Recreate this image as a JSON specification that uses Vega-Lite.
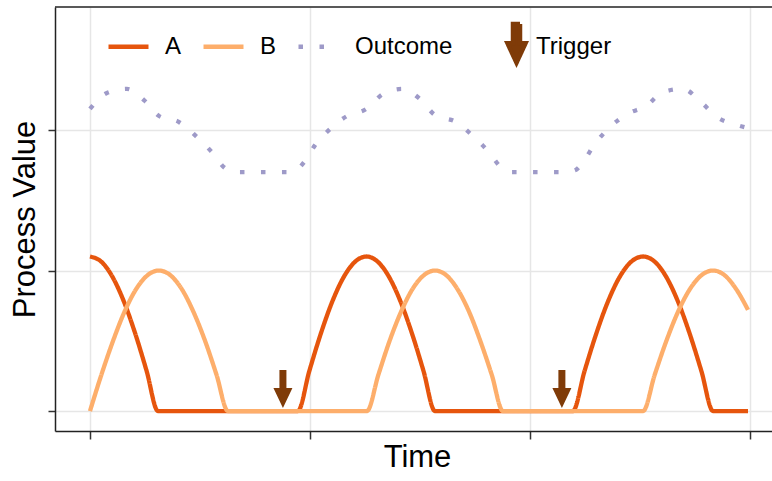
{
  "$schema": "https://vega.github.io/schema/vega-lite/v6.json",
  "autosize": {"type": "none"},
  "padding": {"left": 55, "top": 7, "right": 0, "bottom": 50},
  "width": 717,
  "height": 424,
  "background": "white",
  "datasets": {
    "lines": [
      {"series": "A", "t": 0, "v": 1.1},
      {"series": "A", "t": 0.515, "v": 1.063},
      {"series": "A", "t": 1.03, "v": 0.953},
      {"series": "A", "t": 1.545, "v": 0.778},
      {"series": "A", "t": 2.06, "v": 0.55},
      {"series": "A", "t": 2.575, "v": 0.285},
      {"series": "A", "t": 3.09, "v": 0},
      {"series": "A", "t": 9.45, "v": 0},
      {"series": "A", "t": 9.97, "v": 0.285},
      {"series": "A", "t": 10.49, "v": 0.55},
      {"series": "A", "t": 11.01, "v": 0.778},
      {"series": "A", "t": 11.53, "v": 0.953},
      {"series": "A", "t": 12.05, "v": 1.063},
      {"series": "A", "t": 12.57, "v": 1.1},
      {"series": "A", "t": 13.08, "v": 1.063},
      {"series": "A", "t": 13.6, "v": 0.953},
      {"series": "A", "t": 14.12, "v": 0.778},
      {"series": "A", "t": 14.64, "v": 0.55},
      {"series": "A", "t": 15.16, "v": 0.285},
      {"series": "A", "t": 15.68, "v": 0},
      {"series": "A", "t": 21.95, "v": 0},
      {"series": "A", "t": 22.48, "v": 0.285},
      {"series": "A", "t": 23.01, "v": 0.55},
      {"series": "A", "t": 23.54, "v": 0.778},
      {"series": "A", "t": 24.07, "v": 0.953},
      {"series": "A", "t": 24.6, "v": 1.063},
      {"series": "A", "t": 25.14, "v": 1.1},
      {"series": "A", "t": 25.67, "v": 1.063},
      {"series": "A", "t": 26.2, "v": 0.953},
      {"series": "A", "t": 26.73, "v": 0.778},
      {"series": "A", "t": 27.26, "v": 0.55},
      {"series": "A", "t": 27.79, "v": 0.285},
      {"series": "A", "t": 28.32, "v": 0},
      {"series": "A", "t": 29.91, "v": 0},
      {"series": "B", "t": 0, "v": 0},
      {"series": "B", "t": 0.52, "v": 0.259},
      {"series": "B", "t": 1.05, "v": 0.5},
      {"series": "B", "t": 1.57, "v": 0.707},
      {"series": "B", "t": 2.09, "v": 0.866},
      {"series": "B", "t": 2.61, "v": 0.966},
      {"series": "B", "t": 3.14, "v": 1.0},
      {"series": "B", "t": 3.66, "v": 0.966},
      {"series": "B", "t": 4.18, "v": 0.866},
      {"series": "B", "t": 4.7, "v": 0.707},
      {"series": "B", "t": 5.23, "v": 0.5},
      {"series": "B", "t": 5.75, "v": 0.259},
      {"series": "B", "t": 6.27, "v": 0},
      {"series": "B", "t": 12.59, "v": 0},
      {"series": "B", "t": 13.11, "v": 0.259},
      {"series": "B", "t": 13.62, "v": 0.5},
      {"series": "B", "t": 14.14, "v": 0.707},
      {"series": "B", "t": 14.65, "v": 0.866},
      {"series": "B", "t": 15.17, "v": 0.966},
      {"series": "B", "t": 15.68, "v": 1.0},
      {"series": "B", "t": 16.2, "v": 0.966},
      {"series": "B", "t": 16.71, "v": 0.866},
      {"series": "B", "t": 17.23, "v": 0.707},
      {"series": "B", "t": 17.74, "v": 0.5},
      {"series": "B", "t": 18.26, "v": 0.259},
      {"series": "B", "t": 18.77, "v": 0},
      {"series": "B", "t": 25.14, "v": 0},
      {"series": "B", "t": 25.67, "v": 0.259},
      {"series": "B", "t": 26.2, "v": 0.5},
      {"series": "B", "t": 26.73, "v": 0.707},
      {"series": "B", "t": 27.26, "v": 0.866},
      {"series": "B", "t": 27.79, "v": 0.966},
      {"series": "B", "t": 28.32, "v": 1.0},
      {"series": "B", "t": 28.85, "v": 0.966},
      {"series": "B", "t": 29.38, "v": 0.866},
      {"series": "B", "t": 29.91, "v": 0.72},
      {"series": "Outcome", "t": 0, "v": 2.15},
      {"series": "Outcome", "t": 0.77, "v": 2.264},
      {"series": "Outcome", "t": 1.68, "v": 2.293},
      {"series": "Outcome", "t": 2.5, "v": 2.207},
      {"series": "Outcome", "t": 3.14, "v": 2.1},
      {"series": "Outcome", "t": 4.05, "v": 2.057},
      {"series": "Outcome", "t": 4.82, "v": 1.957},
      {"series": "Outcome", "t": 5.5, "v": 1.85},
      {"series": "Outcome", "t": 6.14, "v": 1.729},
      {"series": "Outcome", "t": 6.59, "v": 1.7},
      {"series": "Outcome", "t": 8.95, "v": 1.7},
      {"series": "Outcome", "t": 9.36, "v": 1.714},
      {"series": "Outcome", "t": 9.73, "v": 1.771},
      {"series": "Outcome", "t": 10.23, "v": 1.893},
      {"series": "Outcome", "t": 10.91, "v": 2.007},
      {"series": "Outcome", "t": 11.68, "v": 2.1},
      {"series": "Outcome", "t": 12.55, "v": 2.15},
      {"series": "Outcome", "t": 13.32, "v": 2.257},
      {"series": "Outcome", "t": 14.18, "v": 2.293},
      {"series": "Outcome", "t": 15.05, "v": 2.214},
      {"series": "Outcome", "t": 15.68, "v": 2.107},
      {"series": "Outcome", "t": 16.64, "v": 2.057},
      {"series": "Outcome", "t": 17.41, "v": 1.957},
      {"series": "Outcome", "t": 18.09, "v": 1.85},
      {"series": "Outcome", "t": 18.73, "v": 1.729},
      {"series": "Outcome", "t": 19.18, "v": 1.7},
      {"series": "Outcome", "t": 21.59, "v": 1.7},
      {"series": "Outcome", "t": 22.05, "v": 1.714},
      {"series": "Outcome", "t": 22.41, "v": 1.771},
      {"series": "Outcome", "t": 22.91, "v": 1.893},
      {"series": "Outcome", "t": 23.59, "v": 2.014},
      {"series": "Outcome", "t": 24.41, "v": 2.114},
      {"series": "Outcome", "t": 25.27, "v": 2.171},
      {"series": "Outcome", "t": 26.05, "v": 2.271},
      {"series": "Outcome", "t": 26.95, "v": 2.293},
      {"series": "Outcome", "t": 27.77, "v": 2.2},
      {"series": "Outcome", "t": 28.5, "v": 2.093},
      {"series": "Outcome", "t": 29.41, "v": 2.036},
      {"series": "Outcome", "t": 29.91, "v": 2.014}
    ],
    "triggers": [
      {"series": "Trigger", "t": 8.77, "v": 0.157},
      {"series": "Trigger", "t": 21.45, "v": 0.157}
    ],
    "border": [
      {"edge": 2.876}
    ]
  },
  "layer": [
    {
      "data": {"name": "lines"},
      "mark": {"type": "line", "strokeWidth": 4.3, "strokeJoin": "round", "interpolate": "monotone"},
      "encoding": {
        "x": {
          "field": "t", "type": "quantitative",
          "scale": {"domain": [-1.59, 31.0], "nice": false, "zero": false},
          "axis": {"values": [0, 10, 20, 30], "title": "Time", "titleX": 362}
        },
        "y": {
          "field": "v", "type": "quantitative",
          "scale": {"domain": [-0.142, 2.876], "nice": false, "zero": false},
          "axis": {"values": [0, 1, 2], "title": "Process Value"}
        },
        "color": {
          "field": "series", "type": "nominal",
          "scale": {"domain": ["A", "B", "Outcome", "Trigger"], "range": ["#e6550d", "#fdae6b", "#9e9ac8", "#7f3b08"]},
          "legend": {
            "title": null,
            "orient": "none",
            "direction": "horizontal",
            "legendX": 51,
            "legendY": 17,
            "padding": 0,
            "symbolSize": 1600,
            "symbolType": "stroke",
            "labelFont": "Liberation Sans",
            "labelFontSize": 24,
            "labelColor": "black",
            "labelOffset": 14,
            "columnPadding": 12,
            "encode": {
              "labels": {
                "update": {
                  "dx": {"signal": "datum.value === 'Trigger' ? 12 : 0"}
                }
              },
              "symbols": {
                "update": {
                  "shape": {"signal": "datum.value === 'Trigger' ? 'M1.275,-1.145L1.625,-1.145L1.625,-0.175L1.9,-0.175L1.45,0.795L1.0,-0.175L1.275,-0.175Z' : 'M-1,0L1,0M0,-1.145L0,-1.145M0,0.795L0,0.795'"},
                  "fill": {"signal": "datum.value === 'Trigger' ? '#7f3b08' : 'transparent'"},
                  "stroke": {"signal": "datum.value === 'Trigger' ? 'transparent' : scale('color', datum.value)"},
                  "strokeDash": {"signal": "datum.value === 'Outcome' ? [4.5, 16.5] : [1, 0]"},
                  "strokeWidth": {"value": 4.5},
                  "opacity": {"value": 1}
                }
              }
            }
          }
        },
        "strokeDash": {
          "field": "series", "type": "nominal",
          "scale": {"domain": ["A", "B", "Outcome"], "range": [[1, 0], [1, 0], [4.5, 16.5]]},
          "legend": null
        }
      }
    },
    {
      "data": {"name": "triggers"},
      "mark": {
        "type": "point", "filled": true, "opacity": 1, "size": 1444, "strokeWidth": 0,
        "color": "#7f3b08",
        "shape": "M-0.184,-1L0.184,-1L0.184,-0.05L0.5,-0.05L0,1L-0.5,-0.05L-0.184,-0.05Z"
      },
      "encoding": {
        "x": {"field": "t", "type": "quantitative"},
        "y": {"field": "v", "type": "quantitative"}
      }
    },
    {
      "data": {"name": "border"},
      "mark": {"type": "rule", "color": "#222222", "strokeWidth": 1.5},
      "encoding": {
        "y": {"field": "edge", "type": "quantitative"}
      }
    }
  ],
  "config": {
    "font": "Liberation Sans",
    "view": {"stroke": null},
    "axis": {
      "labels": false,
      "domain": true,
      "domainColor": "#222222",
      "domainWidth": 1.5,
      "ticks": true,
      "tickSize": 7,
      "tickColor": "#333333",
      "tickWidth": 1.5,
      "grid": true,
      "gridColor": "#e6e6e6",
      "gridWidth": 1.5,
      "titleFont": "Liberation Sans",
      "titleFontSize": 31,
      "titleFontWeight": "normal",
      "titleColor": "black"
    },
    "axisX": {"tickSize": 8, "titlePadding": 3},
    "axisY": {"titlePadding": 6}
  }
}
